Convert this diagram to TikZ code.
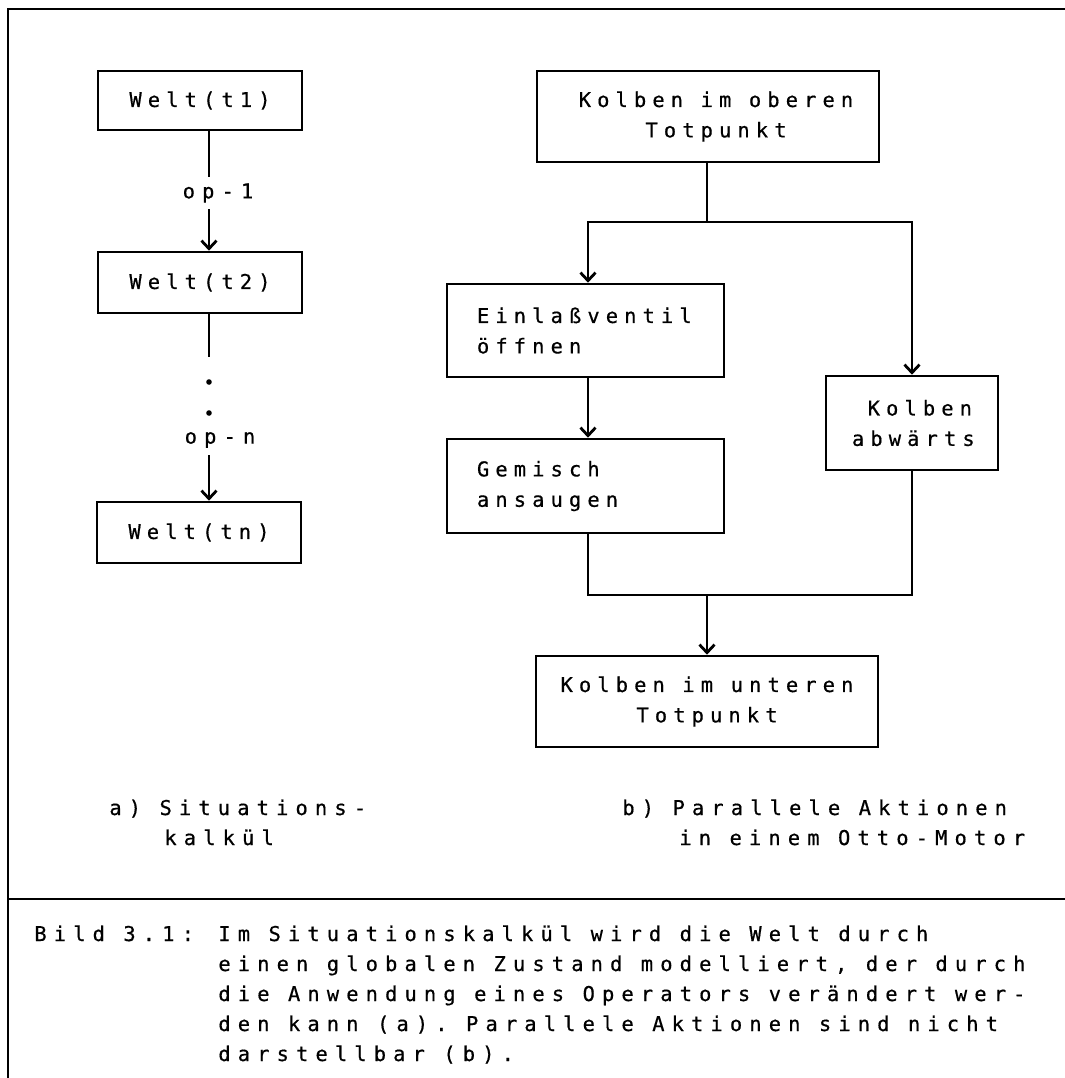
\documentclass[tikz,border=0pt]{standalone}
\usepackage{fontspec}
\usetikzlibrary{arrows.meta}
\newfontfamily\monofont[LetterSpace=35,FakeBold=0.6]{DejaVu Sans Mono}
\newfontfamily\monoboxfont[LetterSpace=30,FakeBold=0.6]{DejaVu Sans Mono}
\newcommand{\diafont}{\monofont\fontsize{10.2pt}{15.2pt}\selectfont\frenchspacing\spaceskip=9.25pt\relax}
\newcommand{\boxfont}{\monoboxfont\fontsize{10.2pt}{15.2pt}\selectfont\frenchspacing\spaceskip=8.8pt\relax}
\begin{document}
\begin{tikzpicture}[x=0.5pt,y=-0.5pt,
  every node/.style={font=\diafont},
  box/.style={draw,line width=1.3pt,inner sep=0pt,font=\boxfont},
  conn/.style={line width=1pt},
  arr/.style={-{Straight Barb[length=4pt,width=7.5pt,line width=1.4pt]}},
  txt/.style={inner sep=0pt,anchor=base west},
  dotn/.style={circle,fill,inner sep=0pt,minimum size=2.8pt}]
\useasboundingbox (0,0) rectangle (1065,1078);
% frame
\draw[line width=1.3pt] (8,1078) -- (8,9) -- (1065,9);
\draw[line width=1.3pt] (8,899) -- (1065,899);
% left column
\coordinate (la) at (209,0);
\node[box,minimum width=102pt,minimum height=29.5pt] (t1) at (200,100.5) {Welt(t1)};
\node[box,minimum width=102pt,minimum height=30.5pt] (t2) at (200,282.5) {Welt(t2)};
\node[box,minimum width=102pt,minimum height=30.5pt] (tn) at (199,532.5) {Welt(tn)};
\node[inner sep=0pt,minimum height=16pt] (op1) at (218,193) {op-1};
\node[inner sep=0pt,minimum height=15pt] (opn) at (220,440) {op-n};
\coordinate (g1) at (209,357);
\node[dotn] (d1) at (209,382) {};
\node[dotn] (d2) at (209,413) {};
\draw[conn] (t1.south -| la) -- (op1.north -| la);
\draw[conn,arr] (op1.south -| la) -- (t2.north -| la);
\draw[conn] (t2.south -| la) -- (g1);
\draw[conn,arr] (opn.south -| la) -- (tn.north -| la);
% right column
\node[box,minimum width=171pt,minimum height=45.5pt,align=center] (top) at (708,116.5) {\hspace*{8pt}Kolben im oberen\\\hspace*{8pt}Totpunkt};
\node[box,minimum width=138.5pt,minimum height=46.5pt,text width=108.5pt,align=left] (ein) at (585.5,330.5) {Einlaßventil\\öffnen};
\node[box,minimum width=138.5pt,minimum height=47pt,text width=108.5pt,align=left] (gem) at (585.5,486) {Gemisch\\ansaugen};
\node[box,minimum width=86pt,minimum height=47pt,text width=60pt,align=right] (kab) at (912,423) {Kolben\\abwärts};
\node[box,minimum width=171pt,minimum height=45.5pt,align=center] (bot) at (707,701.5) {Kolben im unteren\\Totpunkt};
\coordinate (xl) at (588,0);
\coordinate (jt) at (707,222);
\coordinate (jb) at (707,595);
\draw[conn] (top.south -| jt) -- (jt);
\draw[conn,arr] (jt) -| (ein.north -| xl);
\draw[conn,arr] (jt) -| (kab.north);
\draw[conn,arr] (ein.south -| xl) -- (gem.north -| xl);
\draw[conn] (gem.south -| xl) |- (jb);
\draw[conn] (kab.south) |- (jb);
\draw[conn,arr] (jb) -- (bot.north -| jb);
% sub labels
\node[txt] (la1) at (109,815) {a) Situations-};
\node[txt] (la2) at (164,845) {kalkül};
\node[txt] (lb1) at (622,815) {b) Parallele Aktionen};
\node[txt] (lb2) at (679,845) {in einem Otto-Motor};
% caption
\node[txt] (cap) at (34,941) {Bild 3.1:};
\node[txt] (c1) at (218,941) {Im Situationskalkül wird die Welt durch};
\node[txt] (c2) at (218,971) {einen globalen Zustand modelliert, der durch};
\node[txt] (c3) at (218,1001) {die Anwendung eines Operators verändert wer-};
\node[txt] (c4) at (218,1031) {den kann (a). Parallele Aktionen sind nicht};
\node[txt] (c5) at (218,1061) {darstellbar (b).};
\end{tikzpicture}
\end{document}
